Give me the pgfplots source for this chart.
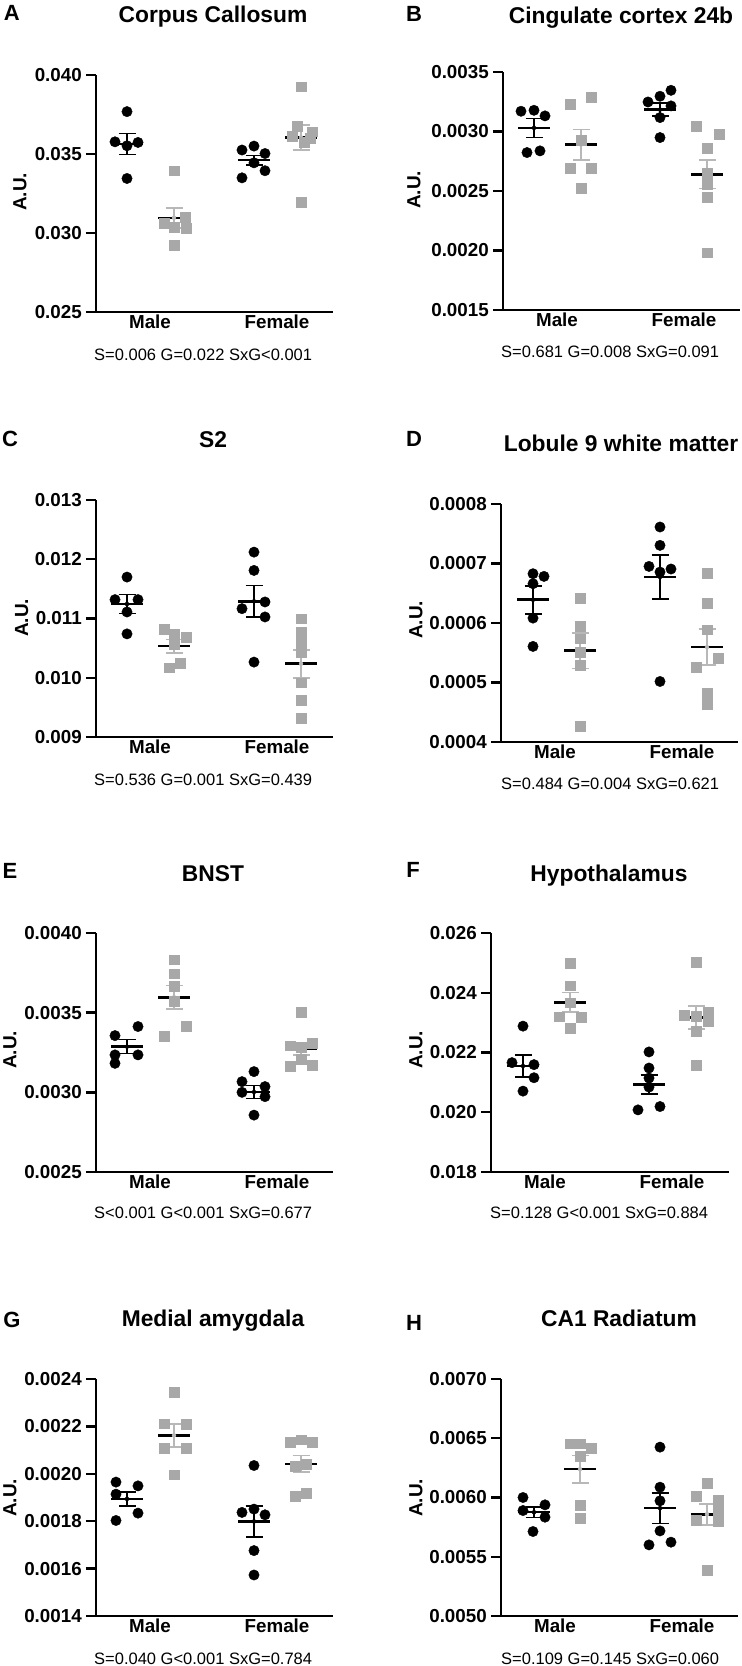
\documentclass[border=0pt]{standalone}
\usepackage{fontspec}
\setmainfont{Liberation Sans}
\usepackage{pgfplots}
\pgfplotsset{compat=1.18}
\definecolor{grayc}{HTML}{A8A8A8}
\definecolor{grayeb}{HTML}{B8B8B8}
\newcommand\tickfont{\fontsize{18.8bp}{20bp}\selectfont\bfseries}
\newcommand\titlefont{\fontsize{22.8bp}{24bp}\selectfont\bfseries}
\newcommand\letterfont{\fontsize{22bp}{24bp}\selectfont\bfseries}
\newcommand\statfont{\fontsize{16.5bp}{18bp}\selectfont}
\newcommand\aufont{\fontsize{19bp}{20bp}\selectfont\bfseries}
\pgfplotsset{
 panel/.style={scale only axis, width=237bp, height=237bp, xmin=0, xmax=237, anchor=south west,
  axis x line=bottom, axis y line=left, axis line style={-, line width=2.4bp, black},
  xtick={54,181}, xticklabels={Male,Female}, x tick style={draw=none},
  y tick style={line width=2.4bp, black}, tick align=outside, major tick length=10bp,
  ticklabel style={font=\tickfont, inner sep=0pt},
  yticklabel style={anchor=east, xshift=-4bp},
  xticklabel style={anchor=base, yshift=-6.5bp},
  clip=false, scaled y ticks=false},
 blk/.style={only marks, mark=*, mark size=5.2bp, black, mark options={draw=black, fill=black}},
 gry/.style={only marks, mark=square*, mark size=4.9bp, grayc, mark options={draw=grayc, fill=grayc}},
 ml/.style={line width=2.6bp, black, mark=none},
 eb/.style={only marks, mark=none, #1, error bars/.cd, y dir=both, y explicit,
  error bar style={line width=1.7bp, #1}, error mark options={rotate=90, mark size=8.5bp, line width=1.7bp, #1}},
}
\begin{document}
\begin{tikzpicture}
\path[use as bounding box] (0,0) rectangle (742bp,1666bp);
% ---------- A ----------
\begin{axis}[panel, at={(96bp,1354bp)}, ymin=0.025, ymax=0.040,
  ytick={0.025,0.030,0.035,0.040}, yticklabels={0.025,0.030,0.035,0.040}]
\addplot[ml] coordinates {(15,0.03563) (47,0.03563)};
\addplot[ml] coordinates {(62,0.03096) (94,0.03096)};
\addplot[ml] coordinates {(142,0.03461) (174,0.03461)};
\addplot[ml] coordinates {(189,0.03605) (221,0.03605)};
\addplot[eb=black] coordinates {(31,0.03563) +- (0,0.00067)};
\addplot[eb=grayeb] coordinates {(78,0.03096) +- (0,0.00063)};
\addplot[eb=black] coordinates {(158,0.03461) +- (0,0.00030)};
\addplot[eb=grayeb] coordinates {(205,0.03605) +- (0,0.00078)};
\addplot[blk] coordinates {(31,0.03768) (19,0.03577) (31,0.03552) (42,0.03573) (31,0.03345)};
\addplot[gry] coordinates {(78,0.03394) (68,0.03064) (89,0.03098) (78,0.03039) (90,0.03032) (78,0.02922)};
\addplot[blk] coordinates {(146,0.03525) (158,0.03550) (169,0.03503) (158,0.03444) (146,0.03349) (169,0.03394)};
\addplot[gry] coordinates {(205,0.03926) (201,0.03677) (216,0.03641) (208,0.03577) (205,0.03197) (196,0.03612) (214,0.03600)};
\end{axis}
% ---------- B ----------
\begin{axis}[panel, at={(503bp,1356bp)}, height=238bp, ymin=0.0015, ymax=0.0035,
  ytick={0.0015,0.0020,0.0025,0.0030,0.0035}, yticklabels={0.0015,0.0020,0.0025,0.0030,0.0035}]
\addplot[ml] coordinates {(15,0.003030) (47,0.003030)};
\addplot[ml] coordinates {(62,0.002890) (94,0.002890)};
\addplot[ml] coordinates {(141,0.003184) (173,0.003184)};
\addplot[ml] coordinates {(188,0.002641) (220,0.002641)};
\addplot[eb=black] coordinates {(31,0.003030) +- (0,0.00008)};
\addplot[eb=grayeb] coordinates {(78,0.002890) +- (0,0.000127)};
\addplot[eb=black] coordinates {(157,0.003184) +- (0,0.000056)};
\addplot[eb=grayeb] coordinates {(204,0.002641) +- (0,0.000119)};
\addplot[blk] coordinates {(18,0.003170) (31,0.003178) (42,0.003131) (24,0.002823) (37,0.002837)};
\addplot[gry] coordinates {(67,0.003226) (88,0.003285) (78,0.002927) (67,0.002689) (88,0.002689) (78,0.002521)};
\addplot[blk] coordinates {(145,0.003248) (157,0.003296) (168,0.003346) (168,0.003215) (157,0.003117) (157,0.002949)};
\addplot[gry] coordinates {(193,0.003044) (216,0.002977) (204,0.002857) (204,0.002647) (204,0.002557) (204,0.002445) (204,0.001981)};
\end{axis}
% ---------- C ----------
\begin{axis}[panel, at={(96bp,929bp)}, ymin=0.009, ymax=0.013,
  ytick={0.009,0.010,0.011,0.012,0.013}, yticklabels={0.009,0.010,0.011,0.012,0.013}]
\addplot[ml] coordinates {(15,0.011245) (47,0.011245)};
\addplot[ml] coordinates {(62,0.010533) (94,0.010533)};
\addplot[ml] coordinates {(142,0.011290) (174,0.011290)};
\addplot[ml] coordinates {(189,0.010236) (221,0.010236)};
\addplot[eb=black] coordinates {(31,0.011245) +- (0,0.00016)};
\addplot[eb=grayeb] coordinates {(78,0.010533) +- (0,0.000112)};
\addplot[eb=black] coordinates {(158,0.011290) +- (0,0.000266)};
\addplot[eb=grayeb] coordinates {(205,0.010236) +- (0,0.000238)};
\addplot[blk] coordinates {(31,0.011699) (19,0.011318) (42,0.011318) (31,0.011110) (31,0.010740)};
\addplot[gry] coordinates {(68,0.010813) (78,0.010740) (90,0.010690) (78,0.010561) (73,0.010168) (84,0.010241)};
\addplot[blk] coordinates {(158,0.012120) (158,0.011811) (169,0.011279) (146,0.011166) (169,0.011026) (158,0.010264)};
\addplot[gry] coordinates {(205,0.010998) (205,0.010774) (205,0.010606) (205,0.010432) (205,0.009916) (205,0.009624) (205,0.009316)};
\end{axis}
% ---------- D ----------
\begin{axis}[panel, at={(501bp,924bp)}, height=238bp, ymin=0.0004, ymax=0.0008,
  ytick={0.0004,0.0005,0.0006,0.0007,0.0008}, yticklabels={0.0004,0.0005,0.0006,0.0007,0.0008}]
\addplot[ml] coordinates {(16,0.0006391) (48,0.0006391)};
\addplot[ml] coordinates {(63,0.0005533) (95,0.0005533)};
\addplot[ml] coordinates {(143,0.0006772) (175,0.0006772)};
\addplot[ml] coordinates {(190,0.0005594) (222,0.0005594)};
\addplot[eb=black] coordinates {(32,0.0006391) +- (0,0.0000236)};
\addplot[eb=grayeb] coordinates {(79,0.0005533) +- (0,0.00003)};
\addplot[eb=black] coordinates {(159,0.0006772) +- (0,0.000037)};
\addplot[eb=grayeb] coordinates {(206,0.0005594) +- (0,0.00003)};
\addplot[blk] coordinates {(32,0.0006828) (43,0.0006783) (32,0.0006660) (32,0.0006082) (32,0.0005606)};
\addplot[gry] coordinates {(79,0.0006419) (79,0.0005942) (79,0.0005735) (79,0.0005510) (79,0.0005297) (79,0.0004260)};
\addplot[blk] coordinates {(159,0.0007613) (159,0.0007305) (148,0.0006951) (159,0.0006856) (170,0.0006907) (159,0.0005017)};
\addplot[gry] coordinates {(206,0.0006839) (206,0.0006335) (206,0.0005886) (217,0.0005409) (195,0.0005258) (206,0.0004821) (206,0.0004636)};
\end{axis}
% ---------- E ----------
\begin{axis}[panel, at={(96bp,494bp)}, height=239bp, ymin=0.0025, ymax=0.0040,
  ytick={0.0025,0.0030,0.0035,0.0040}, yticklabels={0.0025,0.0030,0.0035,0.0040}]
\addplot[ml] coordinates {(15,0.003287) (47,0.003287)};
\addplot[ml] coordinates {(62,0.003597) (94,0.003597)};
\addplot[ml] coordinates {(142,0.003002) (174,0.003002)};
\addplot[ml] coordinates {(189,0.003273) (221,0.003273)};
\addplot[eb=black] coordinates {(31,0.003287) +- (0,0.000044)};
\addplot[eb=grayeb] coordinates {(78,0.003597) +- (0,0.000073)};
\addplot[eb=black] coordinates {(158,0.003002) +- (0,0.00004)};
\addplot[eb=grayeb] coordinates {(205,0.003273) +- (0,0.000037)};
\addplot[blk] coordinates {(19,0.003356) (42,0.003413) (19,0.003235) (42,0.003235) (19,0.003182)};
\addplot[gry] coordinates {(78,0.003832) (78,0.003744) (78,0.003665) (78,0.003570) (68,0.003354) (90,0.003413)};
\addplot[blk] coordinates {(158,0.003130) (146,0.003067) (169,0.003036) (146,0.003000) (169,0.002973) (158,0.002857)};
\addplot[gry] coordinates {(205,0.003501) (194,0.003293) (205,0.003281) (216,0.003308) (205,0.003208) (194,0.003166) (216,0.003172)};
\end{axis}
% ---------- F ----------
\begin{axis}[panel, at={(491bp,494bp)}, height=239bp, width=238bp, xmax=238, ymin=0.018, ymax=0.026,
  ytick={0.018,0.020,0.022,0.024,0.026}, yticklabels={0.018,0.020,0.022,0.024,0.026}]
\addplot[ml] coordinates {(16,0.021548) (48,0.021548)};
\addplot[ml] coordinates {(63,0.023679) (95,0.023679)};
\addplot[ml] coordinates {(142,0.020931) (174,0.020931)};
\addplot[ml] coordinates {(189,0.023174) (221,0.023174)};
\addplot[eb=black] coordinates {(32,0.021548) +- (0,0.00036)};
\addplot[eb=grayeb] coordinates {(79,0.023679) +- (0,0.00033)};
\addplot[eb=black] coordinates {(158,0.020931) +- (0,0.00031)};
\addplot[eb=grayeb] coordinates {(205,0.023174) +- (0,0.00039)};
\addplot[blk] coordinates {(32,0.022882) (21,0.021660) (43,0.021593) (43,0.021155) (32,0.020707)};
\addplot[gry] coordinates {(79,0.024991) (79,0.024239) (79,0.023667) (68,0.023196) (90,0.023174) (79,0.022804)};
\addplot[blk] coordinates {(158,0.022019) (158,0.021480) (158,0.021144) (158,0.020841) (147,0.020079) (169,0.020191)};
\addplot[gry] coordinates {(205,0.025013) (193,0.023252) (205,0.023219) (217,0.023365) (217,0.023028) (205,0.022725) (205,0.021570)};
\end{axis}
% ---------- G ----------
\begin{axis}[panel, at={(96bp,50bp)}, ymin=0.0014, ymax=0.0024,
  ytick={0.0014,0.0016,0.0018,0.0020,0.0022,0.0024}, yticklabels={0.0014,0.0016,0.0018,0.0020,0.0022,0.0024}]
\addplot[ml] coordinates {(15,0.001894) (47,0.001894)};
\addplot[ml] coordinates {(62,0.002162) (94,0.002162)};
\addplot[ml] coordinates {(142,0.001799) (174,0.001799)};
\addplot[ml] coordinates {(189,0.002042) (221,0.002042)};
\addplot[eb=black] coordinates {(31,0.001894) +- (0,0.00003)};
\addplot[eb=grayeb] coordinates {(78,0.002162) +- (0,0.000048)};
\addplot[eb=black] coordinates {(158,0.001799) +- (0,0.000065)};
\addplot[eb=grayeb] coordinates {(205,0.002042) +- (0,0.000035)};
\addplot[blk] coordinates {(20,0.001965) (20,0.001914) (42,0.001949) (42,0.001834) (20,0.001803)};
\addplot[gry] coordinates {(78,0.002345) (68,0.002211) (90,0.002210) (68,0.002108) (90,0.002108) (78,0.001996)};
\addplot[blk] coordinates {(158,0.002035) (146,0.001837) (158,0.001851) (169,0.001827) (158,0.001676) (158,0.001573)};
\addplot[gry] coordinates {(194,0.002132) (205,0.002144) (216,0.002132) (199,0.002031) (210,0.002042) (199,0.001907) (210,0.001918)};
\end{axis}
% ---------- H ----------
\begin{axis}[panel, at={(501bp,50bp)}, ymin=0.0050, ymax=0.0070,
  ytick={0.0050,0.0055,0.0060,0.0065,0.0070}, yticklabels={0.0050,0.0055,0.0060,0.0065,0.0070}]
\addplot[ml] coordinates {(17,0.005876) (49,0.005876)};
\addplot[ml] coordinates {(63,0.006239) (95,0.006239)};
\addplot[ml] coordinates {(143,0.005910) (175,0.005910)};
\addplot[ml] coordinates {(190,0.005859) (222,0.005859)};
\addplot[eb=black] coordinates {(33,0.005876) +- (0,0.000044)};
\addplot[eb=grayeb] coordinates {(79,0.006239) +- (0,0.000115)};
\addplot[eb=black] coordinates {(159,0.005910) +- (0,0.00013)};
\addplot[eb=grayeb] coordinates {(206,0.005859) +- (0,0.000089)};
\addplot[blk] coordinates {(22,0.006000) (22,0.005890) (44,0.005938) (44,0.005834) (32,0.005713)};
\addplot[gry] coordinates {(69,0.006454) (79,0.006454) (90,0.006417) (79,0.006346) (79,0.005938) (79,0.005825)};
\addplot[blk] coordinates {(159,0.006425) (159,0.006087) (159,0.005972) (159,0.005718) (148,0.005600) (170,0.005623)};
\addplot[gry] coordinates {(206,0.006121) (195,0.006014) (217,0.005975) (195,0.005811) (217,0.005797) (217,0.005887) (206,0.005389)};
\end{axis}
% ---------- texts ----------
\begin{scope}[every node/.style={inner sep=0pt}]
\node[anchor=base, font=\letterfont] at (11.7bp,1645.3bp) {A};
\node[anchor=base, font=\letterfont] at (414bp,1644.3bp) {B};
\node[anchor=base, font=\letterfont] at (10bp,1219.3bp) {C};
\node[anchor=base, font=\letterfont] at (414bp,1219.3bp) {D};
\node[anchor=base, font=\letterfont] at (10bp,787.7bp) {E};
\node[anchor=base, font=\letterfont] at (413bp,788.7bp) {F};
\node[anchor=base, font=\letterfont] at (12bp,338bp) {G};
\node[anchor=base, font=\letterfont] at (414bp,335.3bp) {H};
\node[anchor=base, font=\titlefont] at (213bp,1643.3bp) {Corpus Callosum};
\node[anchor=base, font=\titlefont] at (621bp,1642.7bp) {Cingulate cortex 24b};
\node[anchor=base, font=\titlefont] at (213bp,1218.7bp) {S2};
\node[anchor=base, font=\titlefont] at (621bp,1214.3bp) {Lobule 9 white matter};
\node[anchor=base, font=\titlefont] at (213bp,784.3bp) {BNST};
\node[anchor=base, font=\titlefont] at (609bp,784.3bp) {Hypothalamus};
\node[anchor=base, font=\titlefont] at (213bp,339.3bp) {Medial amygdala};
\node[anchor=base, font=\titlefont] at (619bp,339.3bp) {CA1 Radiatum};
\node[anchor=base west, font=\statfont] at (94bp,1305.3bp) {S=0.006 G=0.022 SxG<0.001};
\node[anchor=base west, font=\statfont] at (501bp,1308bp) {S=0.681 G=0.008 SxG=0.091};
\node[anchor=base west, font=\statfont] at (94bp,880.3bp) {S=0.536 G=0.001 SxG=0.439};
\node[anchor=base west, font=\statfont] at (501bp,876bp) {S=0.484 G=0.004 SxG=0.621};
\node[anchor=base west, font=\statfont] at (94bp,447bp) {S<0.001 G<0.001 SxG=0.677};
\node[anchor=base west, font=\statfont] at (490bp,447bp) {S=0.128 G<0.001 SxG=0.884};
\node[anchor=base west, font=\statfont] at (94bp,2bp) {S=0.040 G<0.001 SxG=0.784};
\node[anchor=base west, font=\statfont] at (501bp,2bp) {S=0.109 G=0.145 SxG=0.060};
\node[rotate=90, font=\aufont] at (20bp,1474bp) {A.U.};
\node[rotate=90, font=\aufont] at (414bp,1476bp) {A.U.};
\node[rotate=90, font=\aufont] at (21.7bp,1048bp) {A.U.};
\node[rotate=90, font=\aufont] at (416bp,1046bp) {A.U.};
\node[rotate=90, font=\aufont] at (10bp,616bp) {A.U.};
\node[rotate=90, font=\aufont] at (416bp,616bp) {A.U.};
\node[rotate=90, font=\aufont] at (10bp,168bp) {A.U.};
\node[rotate=90, font=\aufont] at (416bp,168bp) {A.U.};
\end{scope}
\end{tikzpicture}
\end{document}
